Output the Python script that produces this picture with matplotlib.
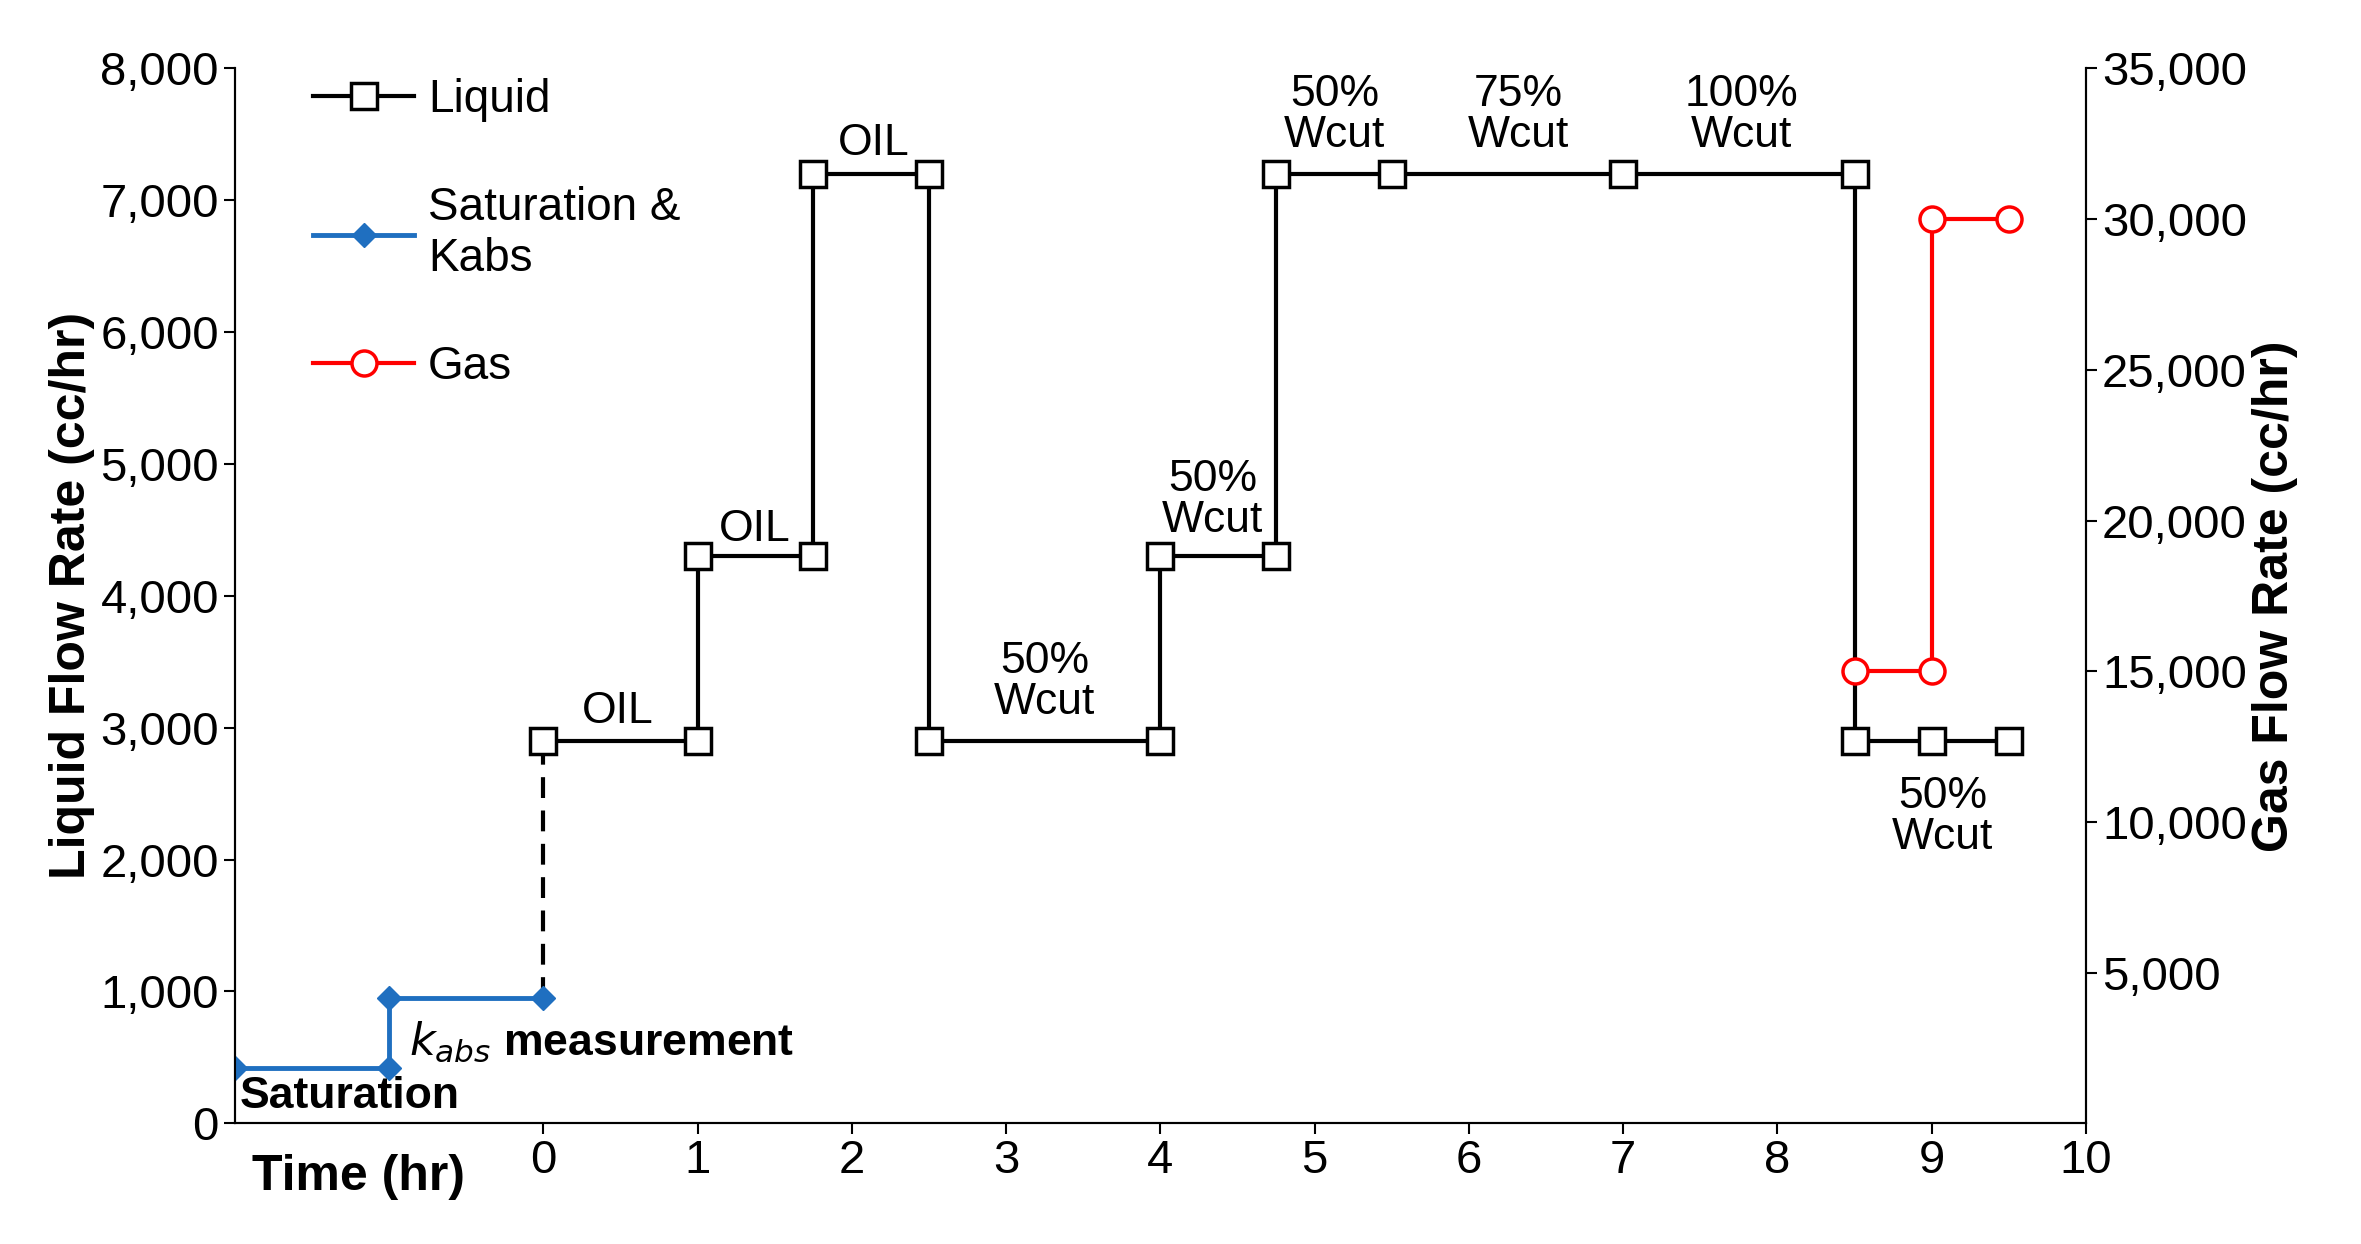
import matplotlib
matplotlib.use("Agg")
import matplotlib.pyplot as plt
from matplotlib.ticker import FuncFormatter
from matplotlib.lines import Line2D

plt.rcParams['font.family'] = ['Liberation Sans', 'DejaVu Sans']

sat_x = [-2, -1, -1, 0]
sat_y = [420, 420, 950, 950]
liq_x = [0, 1, 1, 1.75, 1.75, 2.5, 2.5, 4, 4, 4.75, 4.75, 5.5, 7, 8.5, 8.5, 9, 9.5]
liq_y = [2900, 2900, 4300, 4300, 7200, 7200, 2900, 2900, 4300, 4300, 7200, 7200, 7200, 7200, 2900, 2900, 2900]
gas_x = [8.5, 9, 9, 9.5]
gas_y = [15000, 15000, 30000, 30000]
notes = [("OIL", 0.48, 3120), ("OIL", 1.37, 4500), ("OIL", 2.14, 7430),
         ("50%\nWcut", 3.25, 3350), ("50%\nWcut", 4.34, 4730), ("50%\nWcut", 5.13, 7650),
         ("75%\nWcut", 6.32, 7650), ("100%\nWcut", 7.77, 7650), ("50%\nWcut", 9.07, 2320)]
xticks = list(range(0, 11))

fig = plt.figure(figsize=(23.61, 12.44), dpi=100)
ax = fig.add_axes([0.0995, 0.097, 0.784, 0.848])
ax2 = ax.twinx()

ax.plot(sat_x, sat_y, color='#1f6fc0', lw=3.5, marker='D', ms=12, mfc='#1f6fc0', mec='#1f6fc0', zorder=3)
ax.plot([0, 0], [950, 2900], color='black', lw=3, ls=(0, (5, 3)), zorder=2)
ax.plot(liq_x, liq_y, color='black', lw=3, marker='s', ms=19, mfc='white', mec='black', mew=2.5, zorder=4)
ax2.plot(gas_x, gas_y, color='red', lw=3, marker='o', ms=18, mfc='white', mec='red', mew=2.5, zorder=4)

ax.set_xlim(-2, 10)
ax.set_ylim(0, 8000)
ax2.set_ylim(0, 35000)
ax.set_xticks(xticks)
ax.set_yticks(range(0, 8001, 1000))
ax2.set_yticks(range(5000, 35001, 5000))
fmt = FuncFormatter(lambda v, p: f"{int(v):,}")
ax.yaxis.set_major_formatter(fmt)
ax2.yaxis.set_major_formatter(fmt)
for a in (ax, ax2):
    a.tick_params(labelsize=34, width=1.5, length=8)
    a.spines['top'].set_visible(False)
    for s in a.spines.values():
        s.set_linewidth(1.5)
ax.set_ylabel("Liquid Flow Rate (cc/hr)", fontsize=36, fontweight='bold', labelpad=4)
ax2.set_ylabel("Gas Flow Rate (cc/hr)", fontsize=36, fontweight='bold', labelpad=4)
ax.text(-1.2, -230, "Time (hr)", fontsize=36, fontweight='bold', ha='center', va='top')

for t, x, y in notes:
    ax.text(x, y, t, fontsize=32, ha='center', va='center', linespacing=1.0, zorder=5)
ax.text(-1.97, 200, "Saturation", fontsize=32, fontweight='bold', ha='left', va='center')
ax.text(-0.87, 620, r"$k_{abs}$ measurement", fontsize=32, fontweight='bold', ha='left', va='center')

handles = [Line2D([], [], color='black', lw=3, marker='s', ms=19, mfc='white', mec='black', mew=2.5),
           Line2D([], [], color='#1f6fc0', lw=3.5, marker='D', ms=12, mfc='#1f6fc0'),
           Line2D([], [], color='red', lw=3, marker='o', ms=18, mfc='white', mec='red', mew=2.5)]
ax.legend(handles, ["Liquid", "Saturation &\nKabs", "Gas"], loc='upper left',
          bbox_to_anchor=(0.02, 1.03), frameon=False, fontsize=33, labelspacing=1.4,
          handlelength=2.2, handletextpad=0.3)

fig.savefig("out.png", dpi=100)
